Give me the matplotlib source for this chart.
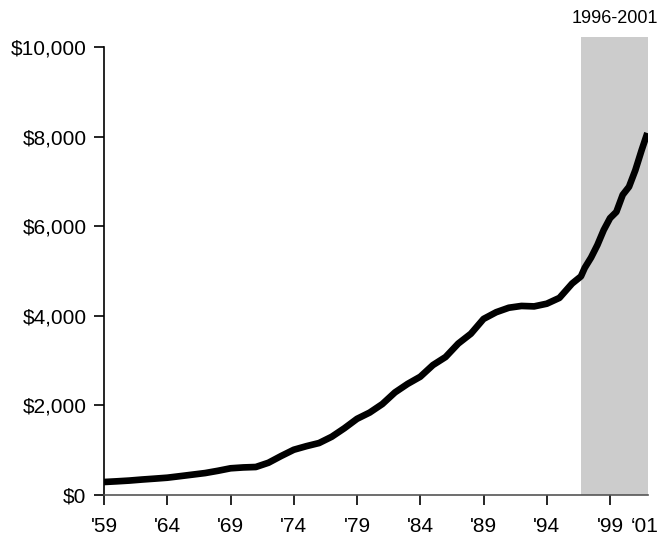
import matplotlib
matplotlib.use("Agg")
import matplotlib.pyplot as plt

years = [1959, 1960, 1961, 1962, 1963, 1964, 1965, 1966, 1967, 1968, 1969, 1970,
         1971, 1972, 1973, 1974, 1975, 1976, 1977, 1978, 1979, 1980, 1981, 1982,
         1983, 1984, 1985, 1986, 1987, 1988, 1989, 1990, 1991, 1992, 1993, 1994,
         1995, 1996, 1996.7, 1997, 1997.5, 1998, 1998.5, 1999, 1999.5, 2000,
         2000.5, 2001, 2001.5, 2001.95]
values = [290, 305, 322, 345, 365, 386, 420, 455, 490, 540, 596, 615,
          625, 720, 870, 1010, 1090, 1160, 1300, 1490, 1700, 1840, 2030, 2290,
          2480, 2640, 2900, 3080, 3380, 3600, 3930, 4080, 4180, 4220, 4210, 4270,
          4400, 4720, 4880, 5070, 5300, 5580, 5915, 6180, 6320, 6700,
          6880, 7250, 7700, 8080]

tick_years = [1959, 1964, 1969, 1974, 1979, 1984, 1989, 1994, 1999]
tick_labels = ["'59", "'64", "'69", "'74", "'79", "'84", "'89", "'94", "'99"]
extra_label_year = 2001.7
extra_label = "\u201801"
y_ticks = [0, 2000, 4000, 6000, 8000, 10000]
y_labels = ["$0", "$2,000", "$4,000", "$6,000", "$8,000", "$10,000"]
shade_start, shade_end = 1996.7, 2002.0
shade_label = "1996-2001"

plt.rcParams['font.family'] = ['Liberation Sans', 'DejaVu Sans']

fig = plt.figure(figsize=(6.59, 5.37), dpi=100)
ax = fig.add_axes([104/659, 42/537, (648-104)/659, (495-36.7)/537])

ax.axvspan(shade_start, shade_end, color='#cccccc', lw=0, zorder=0)
ax.plot(years, values, color='black', lw=4.8, solid_capstyle='butt',
        solid_joinstyle='round', zorder=3)

ax.set_xlim(1959, 2002.0)
ax.set_ylim(0, 10230)

for s in ['top', 'right']:
    ax.spines[s].set_visible(False)
ax.spines['left'].set_bounds(0, 10000)
ax.spines['left'].set_linewidth(1.2)
ax.spines['bottom'].set_linewidth(1.2)
ax.spines['bottom'].set_color('#555555')

ax.set_yticks(y_ticks)
ax.set_yticklabels(y_labels)
ax.set_xticks(tick_years)
ax.set_xticklabels(tick_labels)
ax.set_xticks([extra_label_year], minor=True)
ax.set_xticklabels([extra_label], minor=True)

ax.tick_params(axis='y', length=7.5, width=1.2, pad=5, labelsize=15, color='black')
ax.tick_params(axis='x', which='major', length=7.5, width=1.2, pad=8, labelsize=15, color='black')
ax.tick_params(axis='x', which='minor', length=0, pad=15.5, labelsize=15)

ax.text((shade_start + shade_end) / 2, 1.021, shade_label, transform=ax.get_xaxis_transform(),
        ha='center', va='bottom', fontsize=13)

fig.savefig("out.png", dpi=100)
